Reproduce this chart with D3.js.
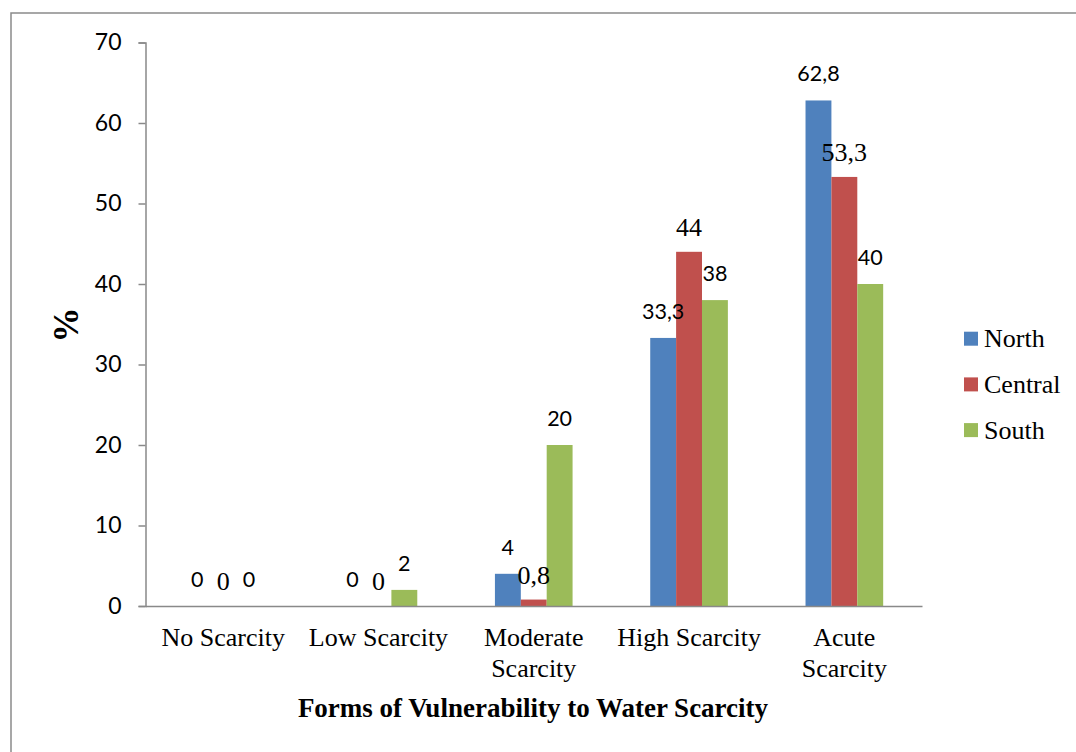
<!DOCTYPE html>
<html>
<head>
<meta charset="utf-8">
<script src="https://cdn.jsdelivr.net/npm/d3@7"></script>
<style>
  html, body { margin: 0; padding: 0; background: #fff; }
  svg { display: block; }
</style>
</head>
<body>
<svg id="chart" width="1076" height="752"></svg>
<script>
// Share of respondents (%) by form of vulnerability to water scarcity, per region
const categories = ["No Scarcity", "Low Scarcity", "Moderate Scarcity", "High Scarcity", "Acute Scarcity"];
const categoryLines = [["No Scarcity"], ["Low Scarcity"], ["Moderate", "Scarcity"], ["High Scarcity"], ["Acute", "Scarcity"]];
const seriesNames = ["North", "Central", "South"];
const north = [0, 0, 4, 33.3, 62.8];
const central = [0, 0, 0.8, 44, 53.3];
const south = [0, 2, 20, 38, 40];
const yTicks = [0, 10, 20, 30, 40, 50, 60, 70];
const yTitle = "%";
const xTitle = "Forms of Vulnerability to Water Scarcity";

const seriesValues = [north, central, south];
const colors = ["#4F81BD", "#C0504D", "#9BBB59"];
const SANS = "Lato, 'Open Sans', sans-serif";
const SERIF = "'Liberation Serif', 'Times New Roman', serif";
// Central labels are set in serif, the others in sans
const labelFont = [
  { family: SANS, size: 21.5, gap: 19 },
  { family: SERIF, size: 26, gap: 16 },
  { family: SANS, size: 21.5, gap: 19 }
];

const svg = d3.select("#chart");
const W = 1076, H = 752;
svg.append("rect").attr("width", W).attr("height", H).attr("fill", "#fff");

// outer frame
svg.append("rect")
  .attr("x", 11).attr("y", 13)
  .attr("width", W + 20).attr("height", H + 20)
  .attr("fill", "none").attr("stroke", "#8a8a8a").attr("stroke-width", 1.5);

const plot = { left: 145.5, right: 922, top: 42.5, bottom: 606 };

const y = d3.scaleLinear().domain([0, 70]).range([plot.bottom, plot.top]);
const x0 = d3.scaleBand().domain(categories).range([plot.left, plot.right]).paddingInner(0).paddingOuter(0);
const x1 = d3.scaleBand().domain(seriesNames).range([0, x0.bandwidth()]).paddingInner(0).paddingOuter(1.5);

const rows = categories.map((c, i) => ({
  category: c,
  values: seriesNames.map((s, j) => ({ series: s, idx: j, value: seriesValues[j][i] }))
}));

// bars
const groups = svg.append("g").selectAll("g")
  .data(rows).join("g")
  .attr("transform", d => `translate(${x0(d.category)},0)`);

groups.selectAll("rect")
  .data(d => d.values).join("rect")
  .attr("x", d => x1(d.series))
  .attr("width", x1.bandwidth())
  .attr("y", d => y(d.value))
  .attr("height", d => y(0) - y(d.value))
  .attr("fill", d => colors[d.idx]);

// value labels
const fmt = v => String(v).replace(".", ",");
groups.selectAll("text")
  .data(d => d.values).join("text")
  .attr("x", d => x1(d.series) + x1.bandwidth() / 2)
  .attr("y", d => y(d.value) - labelFont[d.idx].gap)
  .attr("text-anchor", "middle")
  .style("font-family", d => labelFont[d.idx].family)
  .style("font-size", d => labelFont[d.idx].size + "px")
  .attr("fill", "#000")
  .text(d => fmt(d.value));

// y axis
const yAxis = svg.append("g")
  .attr("transform", `translate(${plot.left},0)`)
  .call(d3.axisLeft(y).tickValues(yTicks).tickSize(7).tickSizeOuter(7).tickPadding(17));
yAxis.select(".domain").attr("stroke", "#898989").attr("stroke-width", 1.5);
yAxis.selectAll(".tick line").attr("stroke", "#898989").attr("stroke-width", 1.5);
yAxis.selectAll(".tick text")
  .attr("font-family", SANS).attr("font-size", 23).attr("fill", "#000");

// x axis
const xAxis = svg.append("g")
  .attr("transform", `translate(0,${plot.bottom})`)
  .call(d3.axisBottom(x0).tickSize(0).tickSizeOuter(0));
xAxis.select(".domain").attr("stroke", "#898989").attr("stroke-width", 1.5);
xAxis.selectAll(".tick text").each(function(d, i) {
  const t = d3.select(this);
  t.text(null).attr("y", null).attr("dy", null)
    .attr("font-family", SERIF).attr("font-size", 26).attr("fill", "#000");
  categoryLines[i].forEach((line, k) => {
    t.append("tspan").attr("x", 0).attr("y", 40 + k * 31).text(line);
  });
});

// axis titles
svg.append("text")
  .attr("transform", "translate(78,325) rotate(-90)")
  .attr("text-anchor", "middle")
  .attr("font-family", SERIF).attr("font-weight", "bold").attr("font-size", 35)
  .text(yTitle);

svg.append("text")
  .attr("x", 533).attr("y", 717)
  .attr("text-anchor", "middle")
  .attr("font-family", SERIF).attr("font-weight", "bold").attr("font-size", 27)
  .text(xTitle);

// legend
const legend = svg.append("g").selectAll("g")
  .data(seriesNames).join("g")
  .attr("transform", (d, i) => `translate(964,${338.7 + i * 45.7})`);
legend.append("rect")
  .attr("x", 0).attr("y", -7).attr("width", 14).attr("height", 14)
  .attr("fill", (d, i) => colors[i]);
legend.append("text")
  .attr("x", 20).attr("y", 8.5)
  .attr("font-family", SERIF).attr("font-size", 26).attr("fill", "#000")
  .text(d => d);
</script>
</body>
</html>
